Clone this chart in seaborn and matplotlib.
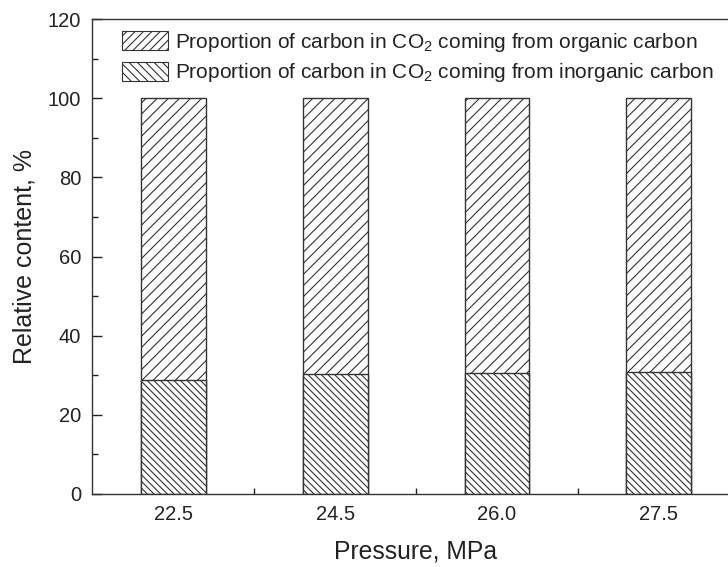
import matplotlib
matplotlib.use("Agg")
import matplotlib.pyplot as plt
import seaborn as sns
import pandas as pd
from matplotlib.patches import Patch
from matplotlib.ticker import MultipleLocator, FixedLocator

pressure = ["22.5", "24.5", "26.0", "27.5"]
inorganic = [28.8, 30.3, 30.5, 30.7]
organic = [100 - v for v in inorganic]
total = [o + i for o, i in zip(organic, inorganic)]

sns.set_theme(style="ticks")
plt.rcParams["font.family"] = ["Liberation Sans", "DejaVu Sans"]
plt.rcParams["mathtext.fontset"] = "custom"
plt.rcParams["mathtext.rm"] = "Liberation Sans"
plt.rcParams["mathtext.it"] = "Liberation Sans:italic"
plt.rcParams["hatch.linewidth"] = 0.8
plt.rcParams["text.color"] = "#222222"
plt.rcParams["axes.labelcolor"] = "#222222"
plt.rcParams["xtick.color"] = "#222222"
plt.rcParams["ytick.color"] = "#222222"

df = pd.DataFrame({"pressure": pressure, "total": total, "inorganic": inorganic})

fig = plt.figure(figsize=(7.28, 5.67), dpi=100)
ax = fig.add_axes([0.127, 0.129, 0.889, 0.837])

edge = "#333333"
sns.barplot(data=df, x="pressure", y="total", order=pressure, color="white",
            edgecolor=edge, linewidth=1.0, hatch="///", width=0.4, ax=ax,
            saturation=1)
sns.barplot(data=df, x="pressure", y="inorganic", order=pressure, color="white",
            edgecolor=edge, linewidth=1.0, hatch="\\\\\\\\\\", width=0.4, ax=ax,
            saturation=1)

ax.set_xlim(-0.5, 3.5)
ax.set_ylim(0, 120)
ax.yaxis.set_major_locator(MultipleLocator(20))
ax.yaxis.set_minor_locator(MultipleLocator(10))
ax.xaxis.set_minor_locator(FixedLocator([0.5, 1.5, 2.5]))
ax.tick_params(which="major", direction="in", length=7, width=1.0, labelsize=14.5, pad=8)
ax.tick_params(which="minor", direction="in", length=4, width=1.0)
ax.tick_params(axis="y", which="both", right=False)
ax.tick_params(axis="x", which="both", top=False)
for s in ax.spines.values():
    s.set_color("#333333")
    s.set_linewidth(1.0)

ax.set_xlabel("Pressure, MPa", fontsize=17.8, labelpad=11)
ax.set_ylabel("Relative content, %", fontsize=18, labelpad=8)

handles = [
    Patch(facecolor="white", edgecolor=edge, hatch="////", linewidth=0.8,
          label="Proportion of carbon in CO$_2$ coming from organic carbon"),
    Patch(facecolor="white", edgecolor=edge, hatch="\\\\\\\\", linewidth=0.8,
          label="Proportion of carbon in CO$_2$ coming from inorganic carbon"),
]
ax.legend(handles=handles, loc="upper left", bbox_to_anchor=(0.033, 0.993),
          frameon=False, fontsize=15, handlelength=2.2, handleheight=1.05,
          handletextpad=0.35, labelspacing=0.36, borderaxespad=0.0)

fig.savefig("out.png", dpi=100)
